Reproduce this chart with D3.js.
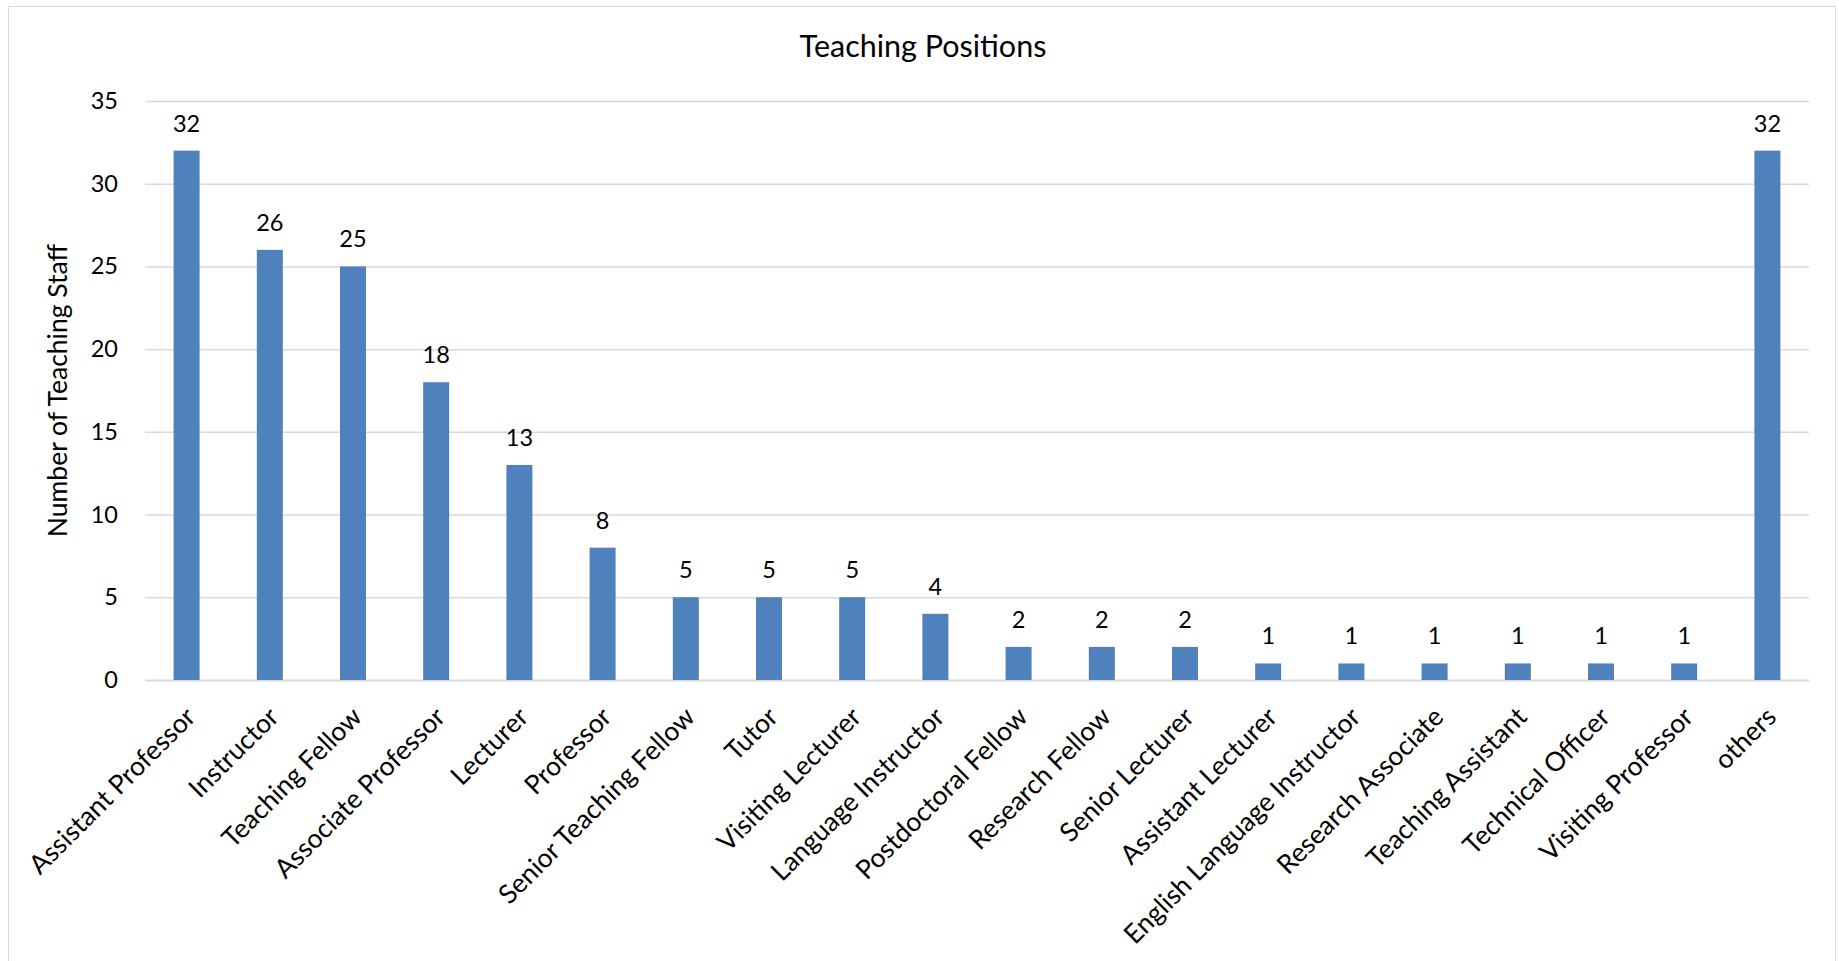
<!DOCTYPE html>
<html>
<head>
    <meta charset="utf-8">
    <title>Teaching Positions</title>
    <script type="text/javascript" src="https://cdn.jsdelivr.net/npm/d3@7/dist/d3.min.js"></script>
    <style>
        body { margin: 0; background: #fff; }
        svg text { font-family: Lato, "Open Sans", sans-serif; fill: #000; }
    </style>
</head>

<body>

<script type="text/javascript">
    var positions = ["Assistant Professor", "Instructor", "Teaching Fellow", "Associate Professor",
        "Lecturer", "Professor", "Senior Teaching Fellow", "Tutor", "Visiting Lecturer",
        "Language Instructor", "Postdoctoral Fellow", "Research Fellow", "Senior Lecturer",
        "Assistant Lecturer", "English Language Instructor", "Research Associate",
        "Teaching Assistant", "Technical Officer", "Visiting Professor", "others"];
    var staffCounts = [32, 26, 25, 18, 13, 8, 5, 5, 5, 4, 2, 2, 2, 1, 1, 1, 1, 1, 1, 32];
    var yTicks = [0, 5, 10, 15, 20, 25, 30, 35];

    var width = 1839,
            height = 961,
            margin = {top: 101, right: 30, bottom: 281, left: 145};

    var svg = d3.select("body").append("svg")
            .attr("width", width)
            .attr("height", height);

    // chart frame
    svg.append("rect")
            .attr("x", 8.5).attr("y", 6.5)
            .attr("width", 1827).attr("height", 970)
            .attr("fill", "none")
            .attr("stroke", "#d9d9d9");

    var x = d3.scaleBand()
            .domain(positions)
            .range([margin.left, width - margin.right])
            .paddingInner(0.6875)
            .paddingOuter(0.34375);

    var y = d3.scaleLinear()
            .domain([0, 35])
            .range([height - margin.bottom, margin.top]);

    // gridlines
    svg.append("g")
            .selectAll("line")
            .data(yTicks)
            .enter()
            .append("line")
            .attr("x1", margin.left)
            .attr("x2", width - margin.right)
            .attr("y1", function (d) { return y(d) + 0.5; })
            .attr("y2", function (d) { return y(d) + 0.5; })
            .attr("stroke", "#d9d9d9")
            .attr("stroke-width", function (d) { return d === 0 ? 2 : 1.5; });

    // y axis labels
    var yAxis = d3.axisLeft(y).tickValues(yTicks).tickSize(0).tickPadding(27);
    svg.append("g")
            .attr("transform", "translate(" + margin.left + ",0)")
            .call(yAxis)
            .call(function (g) { g.select(".domain").remove(); })
            .selectAll("text")
            .style("font-family", "Lato, sans-serif")
            .style("font-size", "23.5px");

    // bars
    svg.append("g")
            .selectAll("rect")
            .data(staffCounts)
            .enter()
            .append("rect")
            .attr("x", function (d, i) { return x(positions[i]); })
            .attr("width", x.bandwidth())
            .attr("y", function (d) { return y(d); })
            .attr("height", function (d) { return y(0) - y(d); })
            .attr("fill", "#4f81bd");

    // value labels
    svg.append("g")
            .selectAll("text")
            .data(staffCounts)
            .enter()
            .append("text")
            .attr("x", function (d, i) { return x(positions[i]) + x.bandwidth() / 2; })
            .attr("y", function (d) { return y(d) - 19; })
            .attr("text-anchor", "middle")
            .style("font-size", "23.5px")
            .text(function (d) { return d; });

    // category labels
    svg.append("g")
            .selectAll("text")
            .data(positions)
            .enter()
            .append("text")
            .attr("transform", function (d) {
                return "translate(" + (x(d) + x.bandwidth() / 2 + 4) + "," + (y(0) + 32) + ") rotate(-45)";
            })
            .attr("text-anchor", "end")
            .attr("dy", "0.35em")
            .style("font-size", "26.5px")
            .text(function (d) { return d; });

    // title
    svg.append("text")
            .attr("x", 923)
            .attr("y", 57)
            .attr("text-anchor", "middle")
            .style("font-size", "30.5px")
            .text("Teaching Positions");

    // y axis title
    svg.append("text")
            .attr("transform", "translate(67," + ((y(0) + y(35)) / 2) + ") rotate(-90)")
            .attr("text-anchor", "middle")
            .style("font-size", "26.5px")
            .text("Number of Teaching Staff");
</script>

</body>

</html>
